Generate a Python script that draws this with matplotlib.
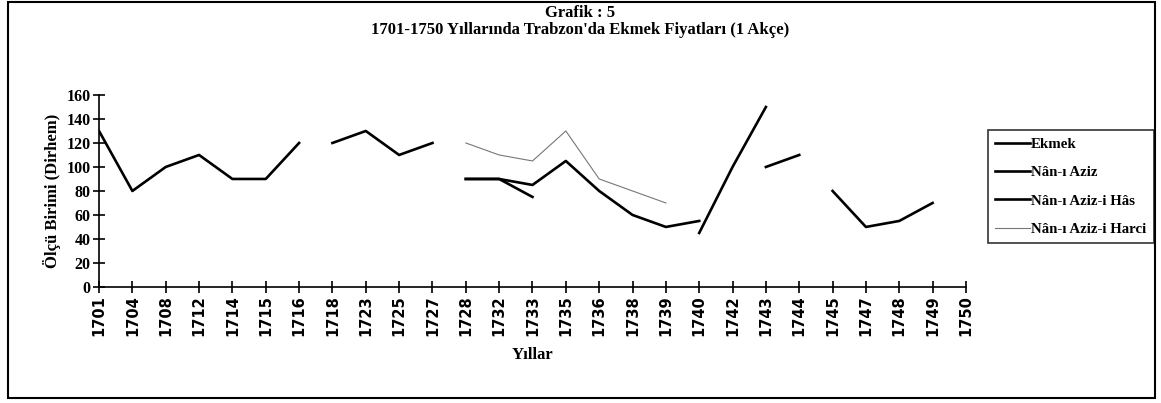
# Grafik 5 - Trabzon ekmek fiyatlari 1701-1750
import numpy as np
import matplotlib
matplotlib.use('Agg')
import matplotlib.pyplot as plt
from matplotlib.patches import Rectangle

nan = np.nan

yillar = ['1701', '1704', '1708', '1712', '1714', '1715', '1716', '1718', '1723',
          '1725', '1727', '1728', '1732', '1733', '1735', '1736', '1738', '1739',
          '1740', '1742', '1743', '1744', '1745', '1747', '1748', '1749', '1750']

ekmek = [130, 80, 100, 110, 90, 90, 120, nan, nan, nan, nan,
         90, 90, 85, 105, 80, 60, 50, 55, nan, 100, 110,
         nan, nan, nan, nan, nan]
nan_aziz = [nan, nan, nan, nan, nan, nan, nan, 120, 130, 110, 120,
            nan, nan, nan, nan, nan, nan, nan, 45, 100, 150, nan,
            80, 50, 55, 70, nan]
nan_aziz_has = [nan] * 11 + [90, 90, 75] + [nan] * 13
nan_aziz_harci = [nan] * 11 + [120, 110, 105, 130, 90, 80, 70] + [nan] * 9

seriler = ['Ekmek', 'Nân-ı Aziz', 'Nân-ı Aziz-i Hâs', 'Nân-ı Aziz-i Harci']

serif = 'Liberation Serif'

fig = plt.figure(figsize=(11.61, 4.03), dpi=100)
ax = fig.add_axes([0.0853, 0.288, 0.7467, 0.4763])

x = np.arange(len(yillar))
ax.plot(x, ekmek, color='black', lw=1.9, label=seriler[0])
ax.plot(x, nan_aziz, color='black', lw=1.9, label=seriler[1])
ax.plot(x, nan_aziz_has, color='black', lw=1.9, label=seriler[2])
ax.plot(x, nan_aziz_harci, color='#777777', lw=0.8, label=seriler[3])

ax.set_xlim(0, len(yillar) - 1)
ax.set_ylim(0, 160)
ax.set_yticks(range(0, 161, 20))
ax.set_xticks(x)
ax.set_xticklabels(yillar, rotation=90, fontsize=10.5, fontweight='bold',
                   family='DejaVu Sans')
for t in ax.get_yticklabels():
    t.set_family(serif)
    t.set_fontweight('bold')
    t.set_fontsize(11.5)

ax.spines['top'].set_visible(False)
ax.spines['right'].set_visible(False)
ax.spines['left'].set_linewidth(1.2)
ax.spines['bottom'].set_linewidth(1.2)
ax.tick_params(direction='inout', length=8, width=1.2, pad=2)

ax.set_ylabel('Ölçü Birimi (Dirhem)', family=serif, fontweight='bold',
              fontsize=12, labelpad=4)
ax.set_xlabel('Yıllar', family=serif, fontweight='bold', fontsize=12, labelpad=8)

fig.text(0.5, 0.988, 'Grafik : 5', ha='center', va='top', family=serif,
         fontweight='bold', fontsize=12)
fig.text(0.5, 0.945, "1701-1750 Yıllarında Trabzon'da Ekmek Fiyatları (1 Akçe)",
         ha='center', va='top', family=serif, fontweight='bold', fontsize=12)

leg = ax.legend(loc='upper left', bbox_to_anchor=(0.851, 0.677),
                bbox_transform=fig.transFigure, borderaxespad=0,
                frameon=True, fancybox=False,
                edgecolor='black', borderpad=0.5, labelspacing=1.0,
                handlelength=2.3, handletextpad=0.1,
                prop={'family': serif, 'weight': 'bold', 'size': 10.7})
leg.get_frame().set_linewidth(1.2)

# cerceve
fig.patches.append(Rectangle((0.007, 0.012), 0.988, 0.984, transform=fig.transFigure,
                             fill=False, edgecolor='black', lw=1.5))

plt.savefig('out.png', dpi=100)
